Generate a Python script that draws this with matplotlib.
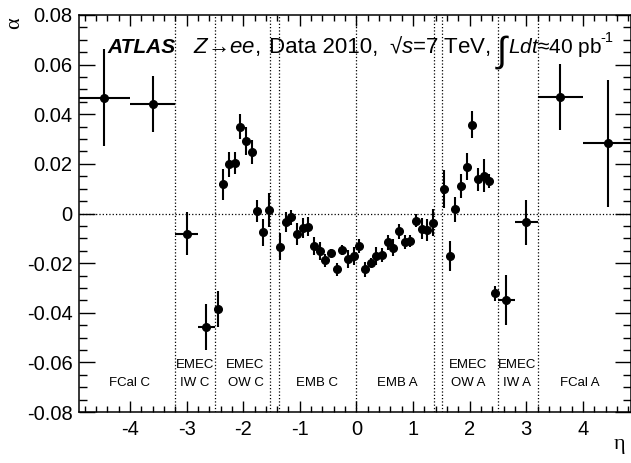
import numpy as np
import matplotlib
matplotlib.use("Agg")
import matplotlib.pyplot as plt
from matplotlib.ticker import MultipleLocator

# Datos: eta, alpha (x0.01), error en alpha (x0.01), semi-ancho del bin en eta
eta = [-4.45, -3.6, -3.0, -2.65, -2.45,
       -2.35, -2.25, -2.15, -2.05, -1.95, -1.85, -1.75, -1.65, -1.55,
       -1.35, -1.25, -1.15, -1.05, -0.95, -0.85, -0.75, -0.65, -0.55, -0.45,
       -0.35, -0.25, -0.15, -0.05, 0.05, 0.15, 0.25, 0.35, 0.45, 0.55,
       0.65, 0.75, 0.85, 0.95, 1.05, 1.15, 1.25, 1.35,
       1.55, 1.65, 1.75, 1.85, 1.95, 2.05, 2.15, 2.25, 2.35, 2.45,
       2.65, 3.0, 3.6, 4.45]
alpha = [4.67, 4.42, -0.81, -4.56, -3.85,
         1.18, 1.98, 2.04, 3.50, 2.92, 2.48, 0.10, -0.76, 0.14,
         -1.34, -0.33, -0.15, -0.83, -0.60, -0.53, -1.30, -1.50, -1.89, -1.58,
         -2.25, -1.47, -1.83, -1.71, -1.31, -2.25, -1.98, -1.71, -1.67, -1.16,
         -1.38, -0.71, -1.15, -1.10, -0.29, -0.62, -0.67, -0.37,
         0.98, -1.70, 0.17, 1.11, 1.89, 3.58, 1.38, 1.52, 1.31, -3.22,
         -3.49, -0.36, 4.71, 2.83]
alpha_err = [1.96, 1.13, 0.87, 0.93, 0.73,
             0.63, 0.49, 0.45, 0.51, 0.55, 0.49, 0.44, 0.53, 0.69,
             0.55, 0.41, 0.30, 0.44, 0.40, 0.38, 0.37, 0.37, 0.26, 0.15,
             0.27, 0.20, 0.37, 0.37, 0.30, 0.30, 0.18, 0.37, 0.27, 0.30,
             0.34, 0.30, 0.30, 0.24, 0.25, 0.42, 0.43, 0.55,
             0.77, 0.60, 0.50, 0.50, 0.56, 0.54, 0.47, 0.67, 0.28, 0.30,
             1.00, 0.89, 1.33, 2.55]
eta_halfwidth = [0.45, 0.4, 0.2, 0.15] + [0.05] * 48 + [0.15, 0.2, 0.4, 0.45]

# Límites entre regiones del calorímetro
region_edges = [-3.2, -2.5, -1.52, -1.37, 0, 1.37, 1.52, 2.5, 3.2]
region_centres = [-4.0, -2.85, -1.96, -0.69, 0.72, 1.98, 2.84, 3.94]
region_top = ["", "EMEC", "EMEC", "", "", "EMEC", "EMEC", ""]
region_bottom = ["FCal C", "IW C", "OW C", "EMB C", "EMB A", "OW A", "IW A", "FCal A"]


def px_a_eta(px):
    # posición horizontal en píxeles de la figura -> eta
    return -4.9 + (px - 79) / 56.6


def main():
    plt.rcParams['font.family'] = ['Liberation Sans', 'DejaVu Sans']
    plt.rcParams['mathtext.fontset'] = 'custom'
    plt.rcParams['mathtext.rm'] = 'Liberation Sans'
    plt.rcParams['mathtext.it'] = 'Liberation Sans:italic'
    plt.rcParams['mathtext.bf'] = 'Liberation Sans:bold'
    plt.rcParams['axes.unicode_minus'] = False

    fig = plt.figure(figsize=(6.31, 4.63), dpi=100)
    ax = fig.add_axes([79 / 631, 51 / 463, 552 / 631, 397 / 463])

    x = np.array(eta)
    y = np.array(alpha) * 0.01
    yerr = np.array(alpha_err) * 0.01

    ax.errorbar(x, y, yerr=yerr, xerr=eta_halfwidth, fmt='o', color='black',
                markersize=5.5, elinewidth=1.5, capsize=0, zorder=3)

    # Líneas punteadas
    ax.axhline(0, color='black', linestyle=':', linewidth=0.9, zorder=1)
    for e in region_edges:
        ax.axvline(e, color='black', linestyle=':', linewidth=0.9, zorder=1)

    # Nombres de las regiones
    for xc, t1, t2 in zip(region_centres, region_top, region_bottom):
        if t1:
            ax.text(xc, -0.061, t1, ha='center', va='center', fontsize=9.5)
        ax.text(xc, -0.0685, t2, ha='center', va='center', fontsize=9.5)

    # Título estilo ATLAS
    y_base = 0.0648
    ax.text(px_a_eta(107), y_base, 'ATLAS', fontsize=15, fontweight='bold',
            fontstyle='italic', ha='left', va='baseline')
    ax.text(px_a_eta(193), y_base, '$Z$→$ee$,', fontsize=16,
            ha='left', va='baseline')
    ax.text(px_a_eta(269), y_base, 'Data 2010,', fontsize=16,
            ha='left', va='baseline')
    ax.text(px_a_eta(389), y_base, '√$s$=7 TeV,', fontsize=16,
            ha='left', va='baseline')
    ax.text(px_a_eta(497), y_base - 0.0035, '∫', fontsize=26,
            ha='left', va='baseline')
    ax.text(px_a_eta(508), y_base, '$Ldt$≈40 pb', fontsize=15,
            ha='left', va='baseline')
    ax.text(px_a_eta(600), y_base + 0.0045, '-1', fontsize=10.5,
            ha='left', va='baseline')

    ax.set_xlim(-4.9, 4.85)
    ax.set_ylim(-0.08, 0.08)
    ax.xaxis.set_major_locator(MultipleLocator(1))
    ax.xaxis.set_minor_locator(MultipleLocator(0.2))
    ax.yaxis.set_minor_locator(MultipleLocator(0.005))
    ax.set_yticks(np.arange(-0.08, 0.081, 0.02))
    ax.set_yticklabels(['-0.08', '-0.06', '-0.04', '-0.02', '0',
                        '0.02', '0.04', '0.06', '0.08'])

    ax.tick_params(axis='both', which='both', direction='in',
                   top=True, right=True, labelsize=14.5, width=1)
    ax.tick_params(axis='x', which='major', length=8, pad=6)
    ax.tick_params(axis='x', which='minor', length=4)
    ax.tick_params(axis='y', which='major', length=11.5, pad=4.5)
    ax.tick_params(axis='y', which='minor', length=5.8)
    for s in ax.spines.values():
        s.set_linewidth(1.1)

    fig.text(15 / 631, 1 - 23 / 463, 'α', fontsize=16, family='Liberation Serif',
             rotation=90, ha='center', va='center')
    fig.text(620 / 631, 1 - 445 / 463, 'η', fontsize=16, family='Liberation Serif',
             ha='center', va='center')

    fig.savefig('out.png', dpi=100)


if __name__ == "__main__":
    main()
